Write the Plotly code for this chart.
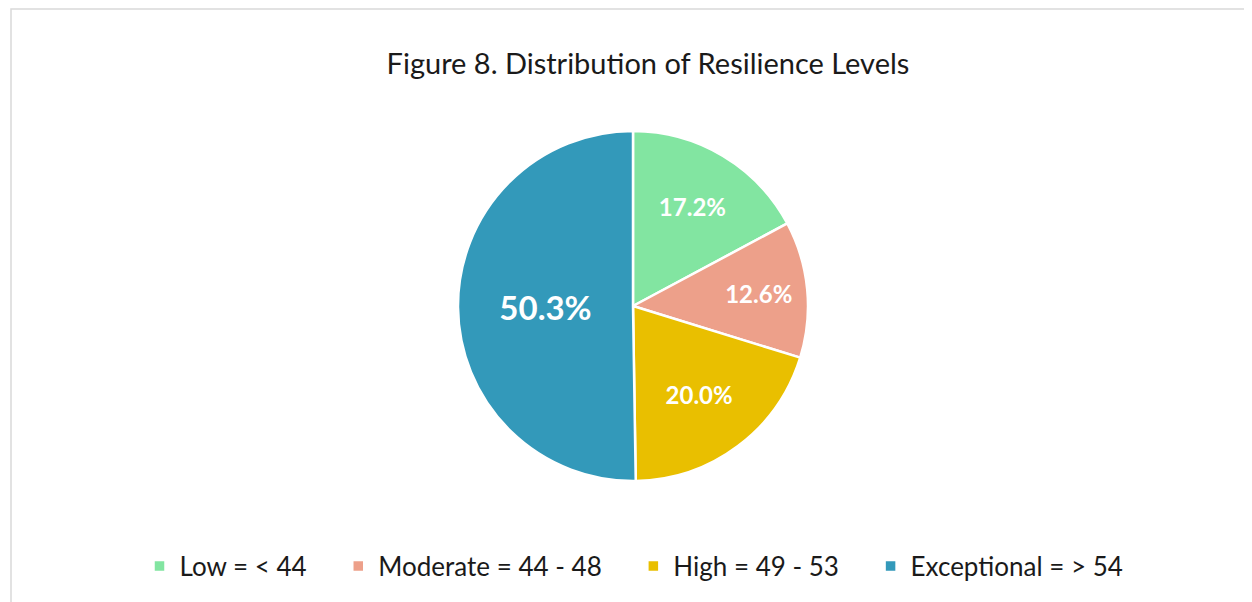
import plotly.graph_objects as go

categories = ["Low = < 44", "Moderate = 44 - 48", "High = 49 - 53", "Exceptional = > 54"]
values = [17.2, 12.6, 20.0, 50.3]
labels_text = ["17.2%", "12.6%", "20.0%", "50.3%"]
colors = ["#82E5A1", "#EDA08A", "#E9BF00", "#3399BA"]
text_sizes = [24, 24, 24, 33]

W, H = 1252, 602
OFF = 8  # page body margin offset
cx, cy, r = 633 - OFF, 306 - OFF, 175

# extra spacing between legend entries (trailing non-breaking spaces)
legend_labels = [c + ("\u00a0" * 4 if i < len(categories) - 1 else "") for i, c in enumerate(categories)]

fig = go.Figure(go.Pie(
    labels=legend_labels,
    values=values,
    text=labels_text,
    textinfo="text",
    texttemplate="<b>%{text}</b>",
    textposition="inside",
    insidetextorientation="horizontal",
    insidetextfont=dict(color="white", size=text_sizes, family="Lato"),
    marker=dict(colors=colors, line=dict(color="white", width=2.5)),
    sort=False,
    direction="clockwise",
    rotation=0,
    domain=dict(x=[(cx - r) / W, (cx + r) / W], y=[(H - cy - r) / H, (H - cy + r) / H]),
    hoverinfo="label+text",
))

fig.update_layout(
    width=W, height=H,
    margin=dict(l=0, r=0, t=0, b=0),
    paper_bgcolor="white",
    plot_bgcolor="white",
    title=dict(text="Figure 8. Distribution of Resilience Levels", x=(648 - OFF) / W, xanchor="center",
               y=1 - (64 - OFF) / H, yanchor="middle",
               font=dict(family="Lato", size=29, color="#1a1a1a")),
    legend=dict(orientation="h", x=(634 - OFF) / W, xanchor="center", y=1 - (566 - OFF) / H, yanchor="middle",
                font=dict(family="Lato", size=26, color="#1a1a1a"),
                itemwidth=30, traceorder="normal"),
    showlegend=True,
    shapes=[dict(type="rect", xref="paper", yref="paper",
                 x0=(11 - OFF) / W, x1=1.01, y0=-0.01, y1=1 - 1 / H,
                 line=dict(color="#d9d9d9", width=1.5), layer="below")],
)

fig.write_html("out.html")
